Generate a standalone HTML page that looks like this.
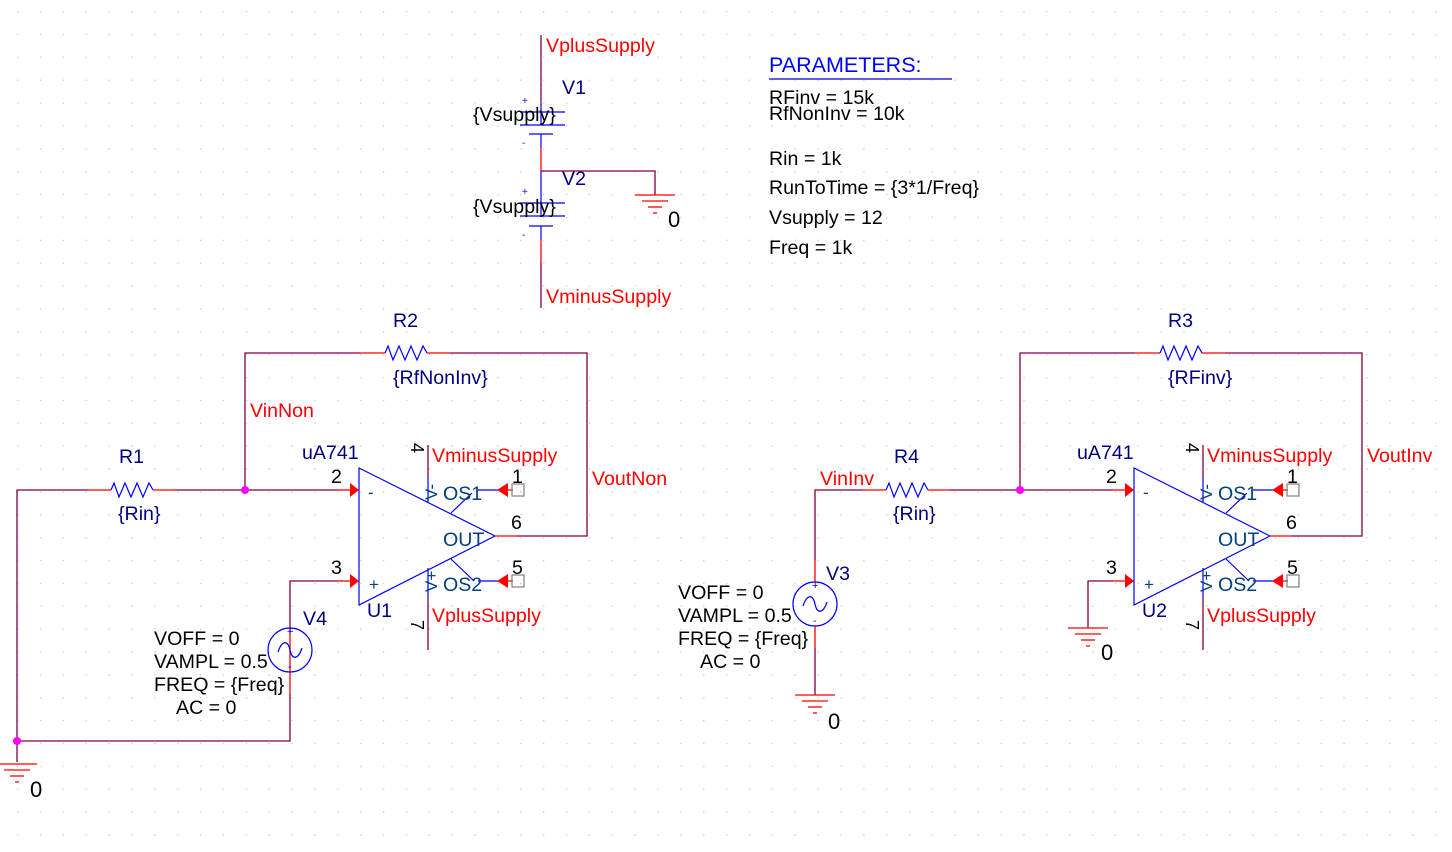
<!DOCTYPE html>
<html><head><meta charset="utf-8"><style>
html,body{margin:0;padding:0;background:#fff;}
svg{display:block;font-family:"Liberation Sans",Arial,sans-serif;}
.w{stroke:#800040;stroke-width:1.3;fill:none}
.r{stroke:#ff0000;stroke-width:1.3;fill:none}
.b{stroke:#0000ff;stroke-width:1.2;fill:none}
.t{font-size:19.6px;fill:#000}
.n{font-size:19.6px;fill:#ff0000}
.d{font-size:19.6px;fill:#000080}
.p{font-size:19.6px;fill:#004080}
.z{font-size:22px;fill:#000}
</style></head><body>
<svg width="1452" height="852" viewBox="0 0 1452 852" xmlns="http://www.w3.org/2000/svg">
<defs>
<pattern id="g" x="17" y="11" width="22.87" height="22.87" patternUnits="userSpaceOnUse">
<rect x="0" y="0" width="1.3" height="1.3" fill="#c8c8c8"/>
</pattern>
<g id="gnd">
<line x1="-20" y1="0" x2="20" y2="0" class="r"/>
<line x1="-13" y1="6" x2="13" y2="6" class="r"/>
<line x1="-7" y1="12" x2="7" y2="12" class="r"/>
<line x1="-2" y1="18" x2="2" y2="18" class="r"/>
</g>
<g id="opamp">
<polygon points="359,468 495,536 359,605" class="b"/>
<text x="368" y="498" class="p" style="font-size:17px">-</text>
<text x="369" y="590" class="p" style="font-size:17px">+</text>
<line x1="338" y1="490" x2="352" y2="490" class="r"/>
<polygon points="350,483 359,490 350,497" fill="#ff0000"/>
<line x1="338" y1="581" x2="352" y2="581" class="r"/>
<polygon points="350,574 359,581 350,588" fill="#ff0000"/>
<line x1="495" y1="536" x2="517" y2="536" class="r"/>
<line x1="428" y1="445" x2="428" y2="476" class="w"/>
<line x1="428" y1="476" x2="428" y2="503" class="b"/>
<line x1="428" y1="568" x2="428" y2="598" class="b"/>
<line x1="428" y1="598" x2="428" y2="650" class="w"/>
<line x1="451" y1="513" x2="472" y2="493" class="b"/>
<line x1="451" y1="559" x2="474" y2="581" class="b"/>
<line x1="478" y1="490" x2="500" y2="490" class="b"/>
<line x1="478" y1="581" x2="500" y2="581" class="b"/>
<polygon points="497,490 508,483 508,497" fill="#ff0000"/>
<polygon points="497,581 508,574 508,588" fill="#ff0000"/>
<line x1="505" y1="490" x2="513" y2="490" class="r"/>
<line x1="505" y1="581" x2="513" y2="581" class="r"/>
<rect x="512" y="484" width="12" height="12" fill="none" stroke="#808080" stroke-width="1.2"/>
<rect x="512" y="575" width="12" height="12" fill="none" stroke="#808080" stroke-width="1.2"/>
<text x="302" y="459" class="d">uA741</text>
<text x="331" y="483" class="t">2</text>
<text x="331" y="574" class="t">3</text>
<text x="443" y="500" class="p">OS1</text>
<text x="443" y="591" class="p">OS2</text>
<text x="443" y="546" class="p">OUT</text>
<text x="511" y="529" class="t">6</text>
<text x="512" y="483" class="t">1</text>
<text x="512" y="574" class="t">5</text>
<text x="432" y="462" class="n">VminusSupply</text>
<text x="432" y="622" class="n">VplusSupply</text>
<text transform="translate(411,443) rotate(90)" class="t" style="font-size:18px">4</text>
<text transform="translate(411,620) rotate(90)" class="t" style="font-size:18px">7</text>
<text transform="translate(437,500) rotate(-90)" class="p" style="font-size:17px">V-</text>
<text transform="translate(437,592) rotate(-90)" class="p" style="font-size:17px">V+</text>
</g>
<g id="res">
<polyline points="0,0 3,-7 8,7 14,-7 20,7 26,-7 32,7 38,-7 42,0" fill="none" stroke="#0000ff" stroke-width="1.2"/>
</g>
<g id="src">
<circle cx="0" cy="0" r="22" class="b"/>
<path d="M-12,2 C-8,-10 -2,-10 0,0 C2,10 8,10 12,-2" class="b"/>
<text x="-3" y="-15" fill="#0000ff" style="font-size:11px">+</text>
<text x="-2" y="20" fill="#0000ff" style="font-size:11px">-</text>
</g>
</defs>
<rect width="1452" height="852" fill="url(#g)"/>

<!-- Supplies -->
<line x1="541" y1="35" x2="541" y2="104" class="w"/>
<line x1="541" y1="104" x2="541" y2="125" class="b"/>
<line x1="520" y1="112" x2="565" y2="112" class="b"/>
<line x1="520" y1="125" x2="565" y2="125" class="b"/>
<line x1="529" y1="134" x2="553" y2="134" class="b"/>
<line x1="541" y1="134" x2="541" y2="148" class="b"/>
<line x1="541" y1="148" x2="541" y2="171" class="r"/>
<polyline points="541,171 655,171 655,195" class="w"/>
<use href="#gnd" x="655" y="195"/>
<line x1="541" y1="171" x2="541" y2="216" class="b"/>
<line x1="520" y1="203" x2="565" y2="203" class="b"/>
<line x1="520" y1="216" x2="565" y2="216" class="b"/>
<line x1="529" y1="226" x2="553" y2="226" class="b"/>
<line x1="541" y1="226" x2="541" y2="240" class="b"/>
<line x1="541" y1="240" x2="541" y2="262" class="r"/>
<line x1="541" y1="262" x2="541" y2="308" class="w"/>
<text x="546" y="52" class="n">VplusSupply</text>
<text x="546" y="303" class="n">VminusSupply</text>
<text x="562" y="94" class="d">V1</text>
<text x="562" y="185" class="d">V2</text>
<text x="473" y="121" class="t">{Vsupply}</text>
<text x="473" y="213" class="t">{Vsupply}</text>
<text x="522" y="104" fill="#0000ff" style="font-size:10px">+</text>
<text x="522" y="146" fill="#0000ff" style="font-size:10px">-</text>
<text x="522" y="195" fill="#0000ff" style="font-size:10px">+</text>
<text x="522" y="238" fill="#0000ff" style="font-size:10px">-</text>
<text x="668" y="227" class="z">0</text>

<!-- Parameters -->
<text x="769" y="72" style="font-size:21.5px;fill:#0000ff">PARAMETERS:</text>
<line x1="769" y1="79" x2="952" y2="79" stroke="#0000cc" stroke-width="1.3"/>
<text x="769" y="104" class="t">RFinv = 15k</text>
<text x="769" y="120" class="t">RfNonInv = 10k</text>
<text x="769" y="165" class="t">Rin = 1k</text>
<text x="769" y="194" class="t">RunToTime = {3*1/Freq}</text>
<text x="769" y="224" class="t">Vsupply = 12</text>
<text x="769" y="254" class="t">Freq = 1k</text>

<!-- Left circuit -->
<polyline points="88,490 17,490 17,762" class="w"/>
<line x1="88" y1="490" x2="111" y2="490" class="r"/>
<use href="#res" x="111" y="490"/>
<line x1="153" y1="490" x2="175" y2="490" class="r"/>
<line x1="175" y1="490" x2="338" y2="490" class="w"/>
<polyline points="245,490 245,353 360,353" class="w"/>
<line x1="360" y1="353" x2="385" y2="353" class="r"/>
<use href="#res" x="385" y="353"/>
<line x1="427" y1="353" x2="450" y2="353" class="r"/>
<polyline points="450,353 587,353 587,536 517,536" class="w"/>
<circle cx="245" cy="490" r="4" fill="#ff00ff"/>
<polyline points="338,581 290,581 290,628" class="w"/>
<line x1="290" y1="628" x2="290" y2="672" class="r"/>
<polyline points="290,694 290,741 17,741" class="w"/>
<line x1="290" y1="672" x2="290" y2="694" class="r"/>
<use href="#src" x="290" y="650"/>
<circle cx="17" cy="741" r="4" fill="#ff00ff"/>
<use href="#gnd" x="17" y="764"/>
<text x="30" y="797" class="z">0</text>
<use href="#opamp"/>
<text x="367" y="617" class="d">U1</text>
<text x="119" y="463" class="d">R1</text>
<text x="118" y="520" class="d">{Rin}</text>
<text x="393" y="327" class="d">R2</text>
<text x="393" y="384" class="d">{RfNonInv}</text>
<text x="250" y="417" class="n">VinNon</text>
<text x="592" y="485" class="n">VoutNon</text>
<text x="303" y="625" class="d">V4</text>
<text x="154" y="645" class="t">VOFF = 0</text>
<text x="154" y="668" class="t">VAMPL = 0.5</text>
<text x="154" y="691" class="t">FREQ = {Freq}</text>
<text x="176" y="714" class="t">AC = 0</text>

<!-- Right circuit -->
<polyline points="863,490 815,490 815,560" class="w"/>
<line x1="815" y1="560" x2="815" y2="582" class="r"/>
<use href="#src" x="815" y="604"/>
<line x1="815" y1="626" x2="815" y2="648" class="r"/>
<line x1="815" y1="648" x2="815" y2="695" class="w"/>
<use href="#gnd" x="815" y="695"/>
<text x="828" y="729" class="z">0</text>
<line x1="863" y1="490" x2="886" y2="490" class="r"/>
<use href="#res" x="886" y="490"/>
<line x1="928" y1="490" x2="950" y2="490" class="r"/>
<line x1="950" y1="490" x2="1113" y2="490" class="w"/>
<polyline points="1020,490 1020,353 1135,353" class="w"/>
<line x1="1135" y1="353" x2="1160" y2="353" class="r"/>
<use href="#res" x="1160" y="353"/>
<line x1="1202" y1="353" x2="1225" y2="353" class="r"/>
<polyline points="1225,353 1362,353 1362,536 1292,536" class="w"/>
<circle cx="1020" cy="490" r="4" fill="#ff00ff"/>
<polyline points="1113,581 1088,581 1088,628" class="w"/>
<use href="#gnd" x="1088" y="628"/>
<text x="1101" y="660" class="z">0</text>
<use href="#opamp" x="775"/>
<text x="1142" y="617" class="d">U2</text>
<text x="894" y="463" class="d">R4</text>
<text x="893" y="520" class="d">{Rin}</text>
<text x="1168" y="327" class="d">R3</text>
<text x="1168" y="384" class="d">{RFinv}</text>
<text x="820" y="485" class="n">VinInv</text>
<text x="1367" y="462" class="n">VoutInv</text>
<text x="826" y="580" class="d">V3</text>
<text x="678" y="599" class="t">VOFF = 0</text>
<text x="678" y="622" class="t">VAMPL = 0.5</text>
<text x="678" y="645" class="t">FREQ = {Freq}</text>
<text x="700" y="668" class="t">AC = 0</text>
</svg>
</body></html>
